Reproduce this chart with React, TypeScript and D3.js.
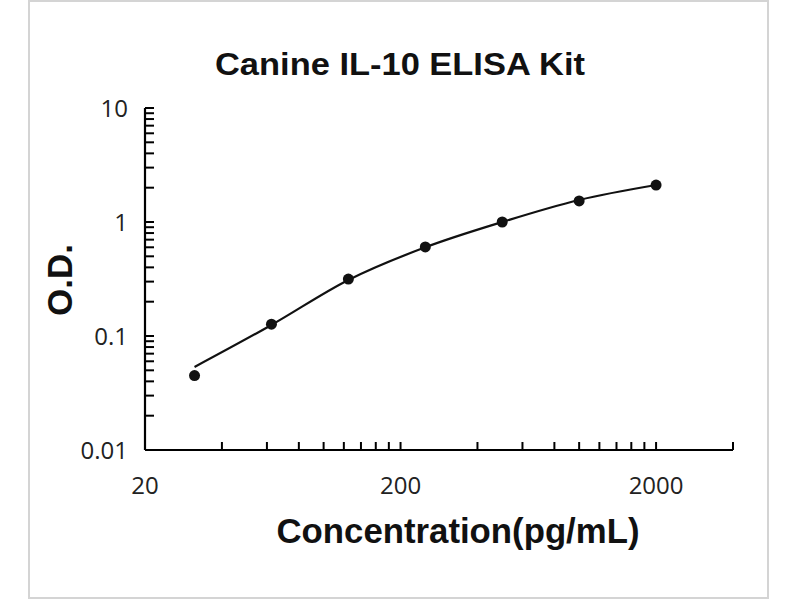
import { useRef, useEffect } from 'react';
import * as d3 from 'd3';

const CONCENTRATIONS = [31.25, 62.5, 125, 250, 500, 1000, 2000];
const OD_VALUES = [0.045, 0.127, 0.316, 0.604, 1.0, 1.53, 2.11];
const FIT_VALUES = [0.0535, 0.125, 0.31, 0.6, 1.0, 1.56, 2.11];

const X_TICKS = [40, 60, 80, 100, 120, 140, 160, 180, 200, 400, 600, 800, 1000, 1200, 1400, 1600, 1800, 2000, 4000];
const X_LABELS = [20, 200, 2000];
const Y_LABELS = [0.01, 0.1, 1, 10];

const TITLE = 'Canine IL-10 ELISA Kit';
const X_TITLE = 'Concentration(pg/mL)';
const Y_TITLE = 'O.D.';

const W = 800;
const H = 600;
const BOLD_FONT = '"Liberation Sans", Arial, sans-serif';
const TICK_FONT = '"Open Sans", "Liberation Sans", sans-serif';

export default function App() {
  const svgRef = useRef<SVGSVGElement>(null);

  useEffect(() => {
    const svg = d3.select(svgRef.current);
    svg.selectAll('*').remove();

    const x = d3.scaleLog().domain([20, 4000]).range([145, 733]);
    const y = d3.scaleLog().domain([0.01, 10]).range([450, 108]);

    // Outer frame of the picture
    svg.append('rect')
      .attr('x', 29).attr('y', 1)
      .attr('width', 739).attr('height', 597)
      .attr('fill', '#fff')
      .attr('stroke', '#d4d4d4').attr('stroke-width', 2);

    // Title
    svg.append('text')
      .attr('x', 400).attr('y', 75)
      .attr('text-anchor', 'middle')
      .attr('font-family', BOLD_FONT)
      .attr('font-weight', 'bold')
      .attr('font-size', 31)
      .attr('textLength', 370)
      .attr('lengthAdjust', 'spacingAndGlyphs')
      .attr('fill', '#111')
      .text(TITLE);

    const [x0, x1] = x.range();
    const [y0, y1] = y.range();

    // Axes lines
    svg.append('line')
      .attr('x1', x0).attr('x2', x0)
      .attr('y1', y1).attr('y2', y0)
      .attr('stroke', '#000').attr('stroke-width', 2.2);
    svg.append('line')
      .attr('x1', x0).attr('x2', x1)
      .attr('y1', y0).attr('y2', y0)
      .attr('stroke', '#000').attr('stroke-width', 2.2);

    // Y ticks (inside, to the right)
    const yTicks = y.ticks();
    svg.append('g')
      .selectAll('line')
      .data(yTicks)
      .join('line')
      .attr('x1', x0).attr('x2', x0 + 9)
      .attr('y1', (d) => y(d)).attr('y2', (d) => y(d))
      .attr('stroke', '#000').attr('stroke-width', 2);

    // X ticks (inside, upward)
    svg.append('g')
      .selectAll('line')
      .data(X_TICKS)
      .join('line')
      .attr('x1', (d) => x(d)).attr('x2', (d) => x(d))
      .attr('y1', y0).attr('y2', y0 - 8)
      .attr('stroke', '#000').attr('stroke-width', 2);

    // Y tick labels
    svg.append('g')
      .selectAll('text')
      .data(Y_LABELS)
      .join('text')
      .attr('x', 128)
      .attr('y', (d) => y(d))
      .attr('dy', '0.36em')
      .attr('text-anchor', 'end')
      .attr('font-family', TICK_FONT)
      .attr('font-size', 24)
      .attr('fill', '#222')
      .text((d) => String(d));

    // X tick labels
    svg.append('g')
      .selectAll('text')
      .data(X_LABELS)
      .join('text')
      .attr('x', (d) => x(d))
      .attr('y', 494)
      .attr('text-anchor', 'middle')
      .attr('font-family', TICK_FONT)
      .attr('font-size', 24)
      .attr('fill', '#222')
      .text((d) => String(d));

    // Axis titles
    svg.append('text')
      .attr('x', 458).attr('y', 543)
      .attr('text-anchor', 'middle')
      .attr('font-family', BOLD_FONT)
      .attr('font-weight', 'bold')
      .attr('font-size', 35)
      .attr('textLength', 363)
      .attr('lengthAdjust', 'spacingAndGlyphs')
      .attr('fill', '#111')
      .text(X_TITLE);

    svg.append('text')
      .attr('transform', 'translate(72,280) rotate(-90)')
      .attr('text-anchor', 'middle')
      .attr('font-family', BOLD_FONT)
      .attr('font-weight', 'bold')
      .attr('font-size', 35)
      .attr('fill', '#111')
      .text(Y_TITLE);

    // Fitted curve
    const fit = CONCENTRATIONS.map((c, i) => [c, FIT_VALUES[i]] as [number, number]);
    svg.append('path')
      .datum(fit)
      .attr('d', d3.line<[number, number]>()
        .x((d) => x(d[0]))
        .y((d) => y(d[1]))
        .curve(d3.curveMonotoneX))
      .attr('fill', 'none')
      .attr('stroke', '#111')
      .attr('stroke-width', 2.2);

    // Measured points
    svg.append('g')
      .selectAll('circle')
      .data(CONCENTRATIONS)
      .join('circle')
      .attr('cx', (d) => x(d))
      .attr('cy', (_, i) => y(OD_VALUES[i]))
      .attr('r', 5.5)
      .attr('fill', '#111');
  }, []);

  return (
    <div style={{ position: 'absolute', left: 0, top: 0, width: W, height: H, background: '#fff' }}>
      <svg ref={svgRef} width={W} height={H} style={{ display: 'block' }} />
    </div>
  );
}
